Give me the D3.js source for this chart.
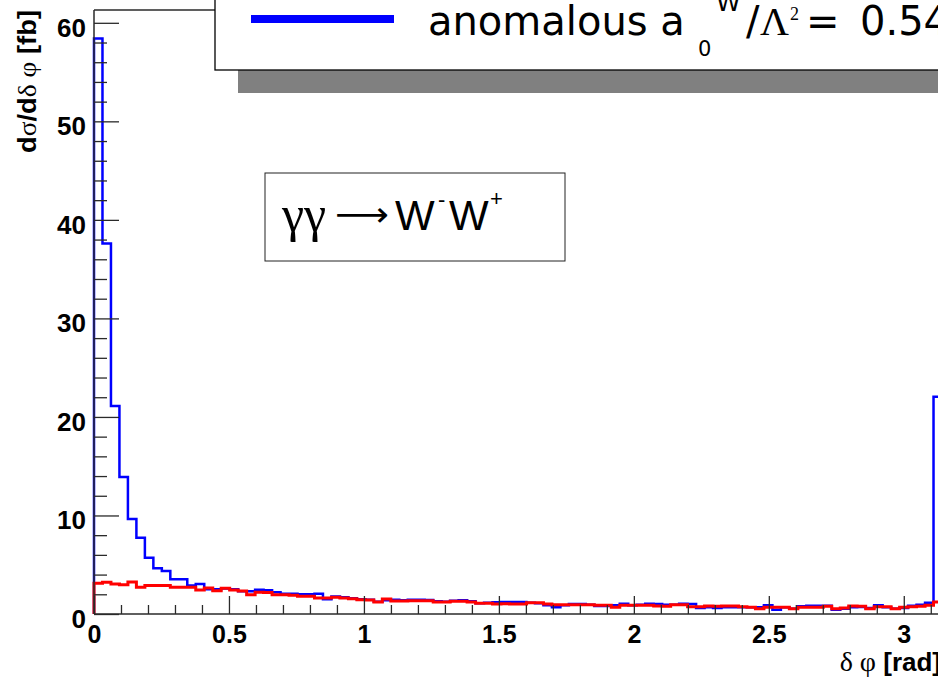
<!DOCTYPE html>
<html>
<head>
<meta charset="utf-8">
<script src="https://cdn.jsdelivr.net/npm/d3@7"></script>
<style>
  html, body { margin: 0; padding: 0; background: #fff; overflow: hidden; }
  svg { display: block; }
</style>
</head>
<body>
<svg id="chart" width="938" height="677"></svg>
<script>
// Azimuthal separation of the W pair, 100 bins over [0, pi]
const phiRange = [0, Math.PI];
const binCount = 100;

// Standard Model prediction, dsigma/d(delta phi) in fb per bin
const smValues = [
  3.11, 3.21, 3.04, 2.98, 3.25, 2.71, 2.88, 2.88, 2.88, 2.71,
  2.71, 2.71, 2.44, 2.64, 2.37, 2.61, 2.44, 2.34, 1.95, 2.20,
  2.18, 1.96, 1.96, 1.90, 1.80, 1.80, 1.63, 1.63, 1.70, 1.63,
  1.56, 1.45, 1.42, 1.22, 1.52, 1.32, 1.32, 1.35, 1.35, 1.35,
  1.22, 1.22, 1.29, 1.29, 1.22, 1.08, 1.08, 1.02, 1.05, 1.02,
  1.02, 1.15, 1.15, 1.02, 0.95, 0.95, 0.95, 0.95, 0.95, 0.88,
  0.88, 0.68, 0.88, 0.88, 0.88, 0.88, 0.81, 0.78, 0.95, 0.95,
  0.74, 0.74, 0.81, 0.78, 0.81, 0.81, 0.74, 0.68, 0.54, 0.68,
  0.68, 0.68, 0.54, 0.68, 0.68, 0.68, 0.78, 0.54, 0.61, 0.81,
  0.78, 0.54, 0.74, 0.74, 0.54, 0.68, 0.74, 0.78, 0.88, 1.22
];

// Anomalous quartic coupling a0W/Lambda^2 switched on
const anomValues = [
  58.4, 37.6, 21.1, 13.9, 9.64, 7.75, 5.72, 4.64, 4.37, 3.52,
  3.52, 2.88, 3.05, 2.50, 2.50, 2.60, 2.50, 2.30, 2.30, 2.45,
  2.40, 2.20, 2.05, 2.05, 2.00, 2.00, 2.05, 1.50, 1.78, 1.70,
  1.60, 1.50, 1.45, 1.25, 1.40, 1.45, 1.40, 1.45, 1.45, 1.42,
  1.30, 1.25, 1.35, 1.40, 1.30, 1.10, 1.15, 1.20, 1.22, 1.22,
  1.22, 1.15, 1.08, 0.88, 0.68, 0.88, 1.02, 1.02, 0.95, 0.81,
  0.81, 0.88, 1.05, 0.88, 0.95, 1.05, 1.02, 0.95, 0.95, 1.05,
  1.02, 0.61, 0.68, 0.61, 0.68, 0.68, 0.68, 0.68, 0.68, 0.88,
  0.44, 0.68, 0.54, 0.78, 0.85, 0.85, 0.85, 0.44, 0.54, 0.68,
  0.71, 0.61, 0.88, 0.68, 0.54, 0.61, 0.85, 0.95, 1.15, 22.06
];

const xMajorTicks = [0, 0.5, 1, 1.5, 2, 2.5, 3];
const xMinorTicks = [0.1,0.2,0.3,0.4,0.6,0.7,0.8,0.9,1.1,1.2,1.3,1.4,1.6,1.7,1.8,1.9,
                     2.1,2.2,2.3,2.4,2.6,2.7,2.8,2.9,3.1];
const yMajorTicks = [0, 10, 20, 30, 40, 50, 60];
const yMinorTicks = [2,4,6,8,12,14,16,18,22,24,26,28,32,34,36,38,42,44,46,48,52,54,56,58];
const yMax = 61.3;

const svg = d3.select("#chart");
const frame = { left: 94, top: 10, bottom: 614, right: 942 };

const x = d3.scaleLinear().domain(phiRange).range([frame.left, frame.right]);
const y = d3.scaleLinear().domain([0, yMax]).range([frame.bottom, frame.top]);

const edges = d3.range(binCount + 1).map(i => phiRange[0] + i * (phiRange[1] - phiRange[0]) / binCount);

// step outline of a histogram
function stepPoints(values) {
  const pts = [[edges[0], 0]];
  values.forEach((v, i) => { pts.push([edges[i], v]); pts.push([edges[i + 1], v]); });
  pts.push([edges[binCount], 0]);
  return pts;
}
const line = d3.line().x(d => x(d[0])).y(d => y(d[1]));

// frame
const frameColor = "#2a2a2a";
svg.append("line").attr("x1", frame.left).attr("x2", frame.right)
  .attr("y1", frame.top).attr("y2", frame.top)
  .attr("stroke", frameColor).attr("stroke-width", 1.3);

// histograms
svg.append("path").attr("d", line(stepPoints(anomValues)))
  .attr("fill", "none").attr("stroke", "#0000ff").attr("stroke-width", 2.5)
  .attr("stroke-linejoin", "miter");
svg.append("path").attr("d", line(stepPoints(smValues)))
  .attr("fill", "none").attr("stroke", "#ff0000").attr("stroke-width", 3)
  .attr("stroke-linejoin", "miter");

// axes
const labelFont = "'Liberation Sans', Arial, Helvetica, sans-serif";

const yAxis = svg.append("g").attr("transform", `translate(${frame.left},0)`)
  .call(d3.axisLeft(y).tickValues(yMajorTicks).tickSize(-25).tickSizeOuter(0).tickPadding(8)
    .tickFormat(d3.format("d")));
const yMinor = svg.append("g").attr("transform", `translate(${frame.left},0)`)
  .call(d3.axisLeft(y).tickValues(yMinorTicks).tickSize(-13).tickSizeOuter(0).tickFormat(""));
const xAxis = svg.append("g").attr("transform", `translate(0,${frame.bottom})`)
  .call(d3.axisBottom(x).tickValues(xMajorTicks).tickSize(-18).tickSizeOuter(0).tickPadding(11)
    .tickFormat(d => String(d)));
const xMinor = svg.append("g").attr("transform", `translate(0,${frame.bottom})`)
  .call(d3.axisBottom(x).tickValues(xMinorTicks).tickSize(-9).tickSizeOuter(0).tickFormat(""));

[yAxis, yMinor, xAxis, xMinor].forEach(g => {
  g.select(".domain").remove();
  g.selectAll(".tick line").attr("stroke", frameColor).attr("stroke-width", 1.3);
  g.selectAll("text").attr("font-family", labelFont).attr("font-weight", "bold")
    .attr("fill", "#000");
});
yAxis.selectAll("text").attr("font-size", 26).attr("dy", "0.52em");
xAxis.selectAll("text").attr("font-size", 25);

svg.append("line").attr("x1", frame.left).attr("x2", frame.left)
  .attr("y1", frame.top).attr("y2", frame.bottom)
  .attr("stroke", frameColor).attr("stroke-width", 1.5);
svg.append("line").attr("x1", frame.left).attr("x2", frame.right)
  .attr("y1", frame.bottom).attr("y2", frame.bottom)
  .attr("stroke", frameColor).attr("stroke-width", 1.5);

// axis titles
const symFont = "'Liberation Serif', 'Times New Roman', serif";
const yTitle = svg.append("text")
  .attr("transform", "translate(36,10) rotate(-90)")
  .attr("text-anchor", "end").attr("font-size", 26)
  .attr("font-family", labelFont).attr("font-weight", "bold")
  .attr("textLength", 143).attr("lengthAdjust", "spacingAndGlyphs");
yTitle.append("tspan").text("d");
yTitle.append("tspan").attr("font-family", symFont).attr("font-weight", "normal").text("σ");
yTitle.append("tspan").text("/d");
yTitle.append("tspan").attr("font-family", symFont).attr("font-weight", "normal").text("δ φ");
yTitle.append("tspan").text(" [fb]");

const xTitle = svg.append("text")
  .attr("x", 941).attr("y", 671)
  .attr("text-anchor", "end").attr("font-size", 26)
  .attr("font-family", labelFont).attr("font-weight", "bold");
xTitle.append("tspan").attr("font-family", symFont).attr("font-weight", "normal").attr("font-size", 28).text("δ φ");
xTitle.append("tspan").text(" [rad]");

// legend with drop shadow
const legendFont = "'DejaVu Sans', sans-serif";
svg.append("rect").attr("x", 238).attr("y", -17).attr("width", 800).attr("height", 110)
  .attr("fill", "#808080");
svg.append("rect").attr("x", 215).attr("y", -40).attr("width", 800).attr("height", 110)
  .attr("fill", "#fff").attr("stroke", "#000").attr("stroke-width", 1.3);
svg.append("line").attr("x1", 251).attr("x2", 394).attr("y1", 19).attr("y2", 19)
  .attr("stroke", "#0000ff").attr("stroke-width", 8);

const leg = svg.append("text").attr("y", 35).attr("font-family", legendFont)
  .attr("font-size", 40).attr("fill", "#000");
leg.append("tspan").attr("x", 428).text("anomalous a");
leg.append("tspan").attr("x", 698).attr("y", 56).attr("font-size", 21).text("0");
leg.append("tspan").attr("x", 716).attr("y", 11).attr("font-size", 25).text("W");
leg.append("tspan").attr("x", 746).attr("y", 35).text("/");
leg.append("tspan").attr("x", 760).attr("font-family", symFont).text("Λ");
leg.append("tspan").attr("x", 790).attr("y", 20).attr("font-size", 18).attr("font-family", symFont).text("2");
leg.append("tspan").attr("x", 806).attr("y", 35).text("=");
leg.append("tspan").attr("x", 860).text("0.54");

// process label
svg.append("rect").attr("x", 265).attr("y", 173).attr("width", 300).attr("height", 88)
  .attr("fill", "#fff").attr("stroke", "#222").attr("stroke-width", 1);
svg.append("text").attr("x", 282).attr("y", 231).attr("font-family", symFont)
  .attr("font-size", 50).attr("fill", "#000").text("γγ");
// long thin arrow, widened to span the gap between the photons and the W pair
const arrow = svg.append("text").attr("font-family", "'DejaVu Sans', sans-serif")
  .attr("font-size", 34).attr("fill", "#000").text("⟶");
const arrowWidth = arrow.node().getBBox().width || 55;
arrow.attr("transform", `translate(335,226) scale(${54 / arrowWidth},1)`);
const proc = svg.append("text").attr("y", 230).attr("font-size", 42)
  .attr("font-family", labelFont).attr("fill", "#000");
proc.append("tspan").attr("x", 395).text("W");
proc.append("tspan").attr("x", 438).attr("y", 207).attr("font-size", 22).text("-");
proc.append("tspan").attr("x", 449).attr("y", 230).text("W");
proc.append("tspan").attr("x", 490).attr("y", 206).attr("font-size", 22).text("+");
</script>
</body>
</html>
